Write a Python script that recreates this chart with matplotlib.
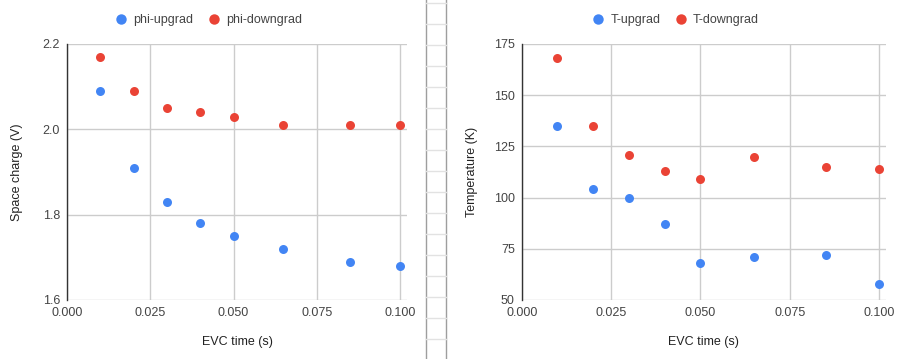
import matplotlib
matplotlib.use("Agg")
import matplotlib.pyplot as plt
from matplotlib.lines import Line2D

plt.rcParams['font.family'] = ['Liberation Sans', 'DejaVu Sans']

evc_time = [0.01, 0.02, 0.03, 0.04, 0.05, 0.065, 0.085, 0.1]
phi_upgrad = [2.09, 1.91, 1.83, 1.78, 1.75, 1.72, 1.69, 1.68]
phi_downgrad = [2.17, 2.09, 2.05, 2.04, 2.03, 2.01, 2.01, 2.01]
T_upgrad = [135, 104, 100, 87, 68, 71, 72, 58]
T_downgrad = [168, 135, 121, 113, 109, 120, 115, 114]

x_ticks = [0.0, 0.025, 0.05, 0.075, 0.1]
x_ticklabels = ["0.000", "0.025", "0.050", "0.075", "0.100"]
phi_ticks = [1.6, 1.8, 2.0, 2.2]
phi_ticklabels = ["1.6", "1.8", "2.0", "2.2"]
T_ticks = [50, 75, 100, 125, 150, 175]
T_ticklabels = ["50", "75", "100", "125", "150", "175"]

BLUE = "#4285F4"
RED = "#EA4335"
GRID = "#cccccc"
TICK = "#444444"
LABEL = "#222222"

W, H = 901, 359
fig = plt.figure(figsize=(W / 100, H / 100), dpi=100)


def px_axes(l, t, r, b):
    return fig.add_axes([l / W, 1 - b / H, (r - l) / W, (b - t) / H])


def style(ax, yticks, yticklabels, ylim, xlim, ylabel, ylabel_x):
    ax.set_xlim(*xlim)
    ax.set_ylim(*ylim)
    ax.set_xticks(x_ticks)
    ax.set_xticklabels(x_ticklabels)
    ax.set_yticks(yticks)
    ax.set_yticklabels(yticklabels)
    ax.tick_params(length=0, labelsize=9, colors=TICK, pad=5)
    ax.grid(True, color=GRID, linewidth=1)
    ax.set_axisbelow(True)
    for s in ["top", "right", "bottom"]:
        ax.spines[s].set_visible(False)
    ax.spines["left"].set_color("#333333")
    ax.spines["left"].set_linewidth(1)
    ax.set_xlabel("EVC time (s)", fontsize=9, color=LABEL)
    ax.set_ylabel(ylabel, fontsize=9, color=LABEL)
    ax.xaxis.label.set_va("center")
    ax.xaxis.set_label_coords(0.5, -42 / 256)
    ax.yaxis.label.set_va("center")
    ax.yaxis.set_label_coords(ylabel_x, 0.5)


ax1 = px_axes(67, 44, 407, 300)
ax1.scatter(evc_time, phi_upgrad, s=42, color=BLUE, zorder=3, linewidths=0)
ax1.scatter(evc_time, phi_downgrad, s=42, color=RED, zorder=3, linewidths=0)
style(ax1, phi_ticks, phi_ticklabels, (1.6, 2.2), (0, 0.1021),
      "Space charge (V)", (17 - 67) / 340)

ax2 = px_axes(521.7, 44, 886, 300)
ax2.scatter(evc_time, T_upgrad, s=42, color=BLUE, zorder=3, linewidths=0)
ax2.scatter(evc_time, T_downgrad, s=42, color=RED, zorder=3, linewidths=0)
style(ax2, T_ticks, T_ticklabels, (50, 175), (0, 0.1019),
      "Temperature (K)", (472 - 521.7) / 364.3)


def legend(names, cx):
    handles = [Line2D([], [], marker="o", linestyle="none", markersize=7.5,
                      markerfacecolor=c, markeredgewidth=0, color=c)
               for c in (BLUE, RED)]
    lg = fig.legend(handles, names, loc="center", bbox_to_anchor=(cx / W, 1 - 20 / H),
                    ncol=2, frameon=False, fontsize=9, handlelength=0.8,
                    handletextpad=0.6, columnspacing=1.2, labelcolor=TICK)
    return lg


legend(["phi-upgrad", "phi-downgrad"], 209)
legend(["T-upgrad", "T-downgrad"], 676)

# spreadsheet divider strip
for x in (426, 446):
    fig.add_artist(Line2D([x / W, x / W], [0, 1], color="#9e9e9e", linewidth=1,
                          transform=fig.transFigure))
y = 2.7
while y < H:
    fig.add_artist(Line2D([426 / W, 446 / W], [1 - y / H, 1 - y / H], color="#e2e2e2",
                          linewidth=1, transform=fig.transFigure))
    y += 21

fig.savefig("out.png", dpi=100)
